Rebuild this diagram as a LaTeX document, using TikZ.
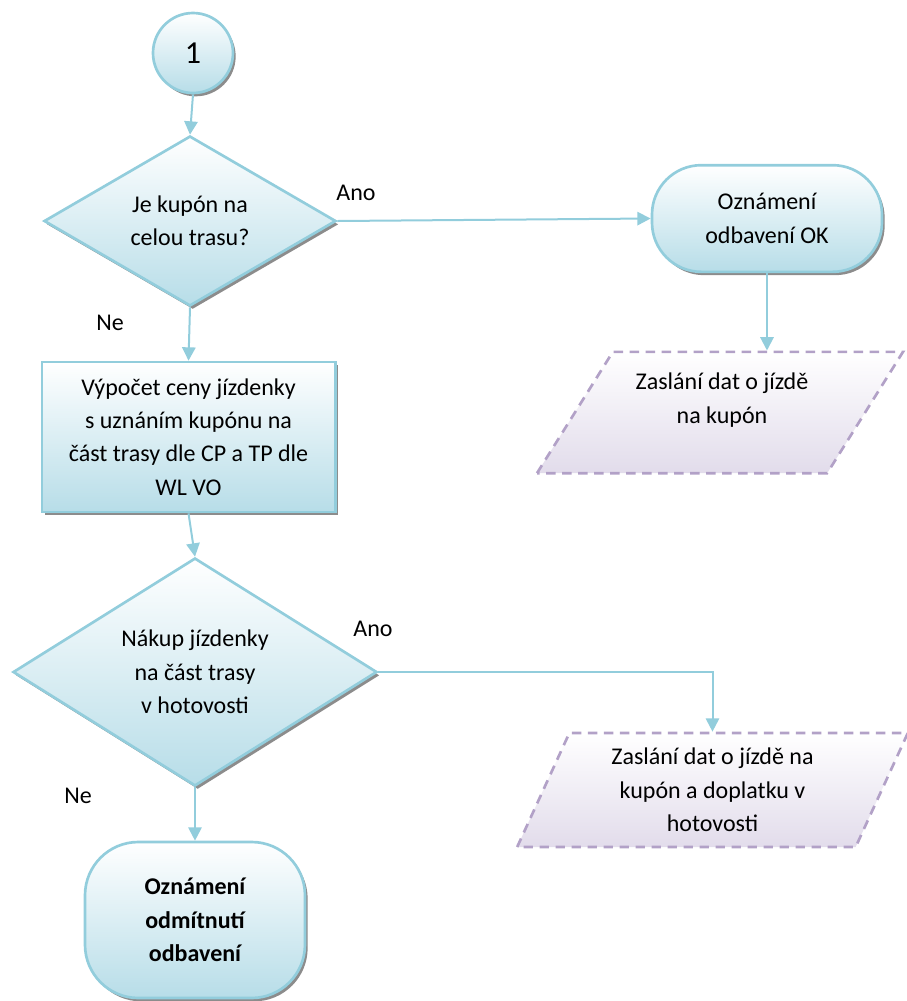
\documentclass[tikz,border=0pt]{standalone}
\usepackage{fontspec}
\setmainfont{Carlito}
\usepackage{tikz}
\usetikzlibrary{arrows.meta,calc,shadows,shapes.geometric}
\definecolor{FlowAqua}{HTML}{92CDDC}
\definecolor{FillAqua}{HTML}{B7DDE8}
\definecolor{DataLilac}{HTML}{B2A1C7}
\definecolor{FillLilac}{HTML}{E2DCEB}
\definecolor{ShadeGray}{HTML}{8C8C8C}

\begin{document}
\begin{tikzpicture}[x=0.75pt,y=-0.75pt,font=\fontsize{18}{25}\selectfont,>={Triangle[length=10pt,width=10pt]},
    flowbox/.style={draw=FlowAqua,line width=2pt,top color=white,bottom color=FillAqua,
      general shadow={fill=ShadeGray,shadow xshift=2pt,shadow yshift=-2.5pt},
      inner sep=0pt,align=center},
    decision/.style={flowbox,diamond,aspect=1.7},
    terminal/.style={flowbox,rectangle},
    datashape/.style={draw=DataLilac,line width=2pt,dash pattern=on 7pt off 5pt,
      top color=white,bottom color=FillLilac,trapezium,trapezium left angle=58,
      trapezium right angle=122,trapezium stretches body,inner sep=0pt},
    link/.style={->,draw=FlowAqua,line width=1.5pt}]
    \useasboundingbox (0,0) rectangle (907,1001);

    % Start and first question.
    \node[flowbox,circle,minimum size=60pt,font=\fontsize{24}{28}\selectfont] (start)
      at (193,53) {1};
    \node[decision,minimum width=219pt,minimum height=127.5pt] (whole) at (190,221)
      {Je kupón na\\ celou trasu?};
    \node[terminal,rounded corners=37pt,minimum width=172.5pt,minimum height=80pt] (okmsg)
      at (767,218.5) {Oznámení\\ odbavení OK};
    \node[datashape,text height=45.5pt,text depth=45.5pt,minimum width=274.5pt] (sendfull)
      at (720,412.5) {};
    \node[align=center] (sendfulltxt) at (722,400) {Zaslání dat o jízdě\\ na kupón};

    % Partial route.
    \node[terminal,minimum width=220pt,minimum height=112.5pt] (price) at (188.5,437)
      {Výpočet ceny jízdenky\\ s uznáním kupónu na\\ část trasy dle CP a TP dle\\ WL VO};
    \node[decision,minimum width=273pt,minimum height=171pt] (cash) at (195,672)
      {Nákup jízdenky\\ na část trasy\\ v hotovosti};
    \node[datashape,minimum width=293pt,minimum height=85.5pt,align=center] (sendcash)
      at (712.5,790) {Zaslání dat o jízdě na\\ kupón a doplatku v\\ hotovosti};
    \node[terminal,rounded corners=40pt,minimum width=165pt,minimum height=117pt,
      font=\fontsize{18}{25}\selectfont\bfseries] (reject) at (195,920)
      {Oznámení\\ odmítnutí\\ odbavení};

    % Branch labels.
    \node (yes1) at (356,193) {Ano};
    \node (no1) at (110,323) {Ne};
    \node (yes2) at (373,629) {Ano};
    \node (no2) at (78,796) {Ne};

    \draw[link] (start.south) -- (whole.north);
    \draw[link] (whole.east) -- (okmsg.west);
    \draw[link] (okmsg.south) -- (okmsg.south |- sendfull.north);
    \draw[link] (whole.south) -- (price.north);
    \draw[link] (price.south) -- (cash.north);
    \draw[link] (cash.east) -| (sendcash.center |- sendcash.north);
    \draw[link] (cash.south) -- (reject.north);
\end{tikzpicture}
\end{document}
